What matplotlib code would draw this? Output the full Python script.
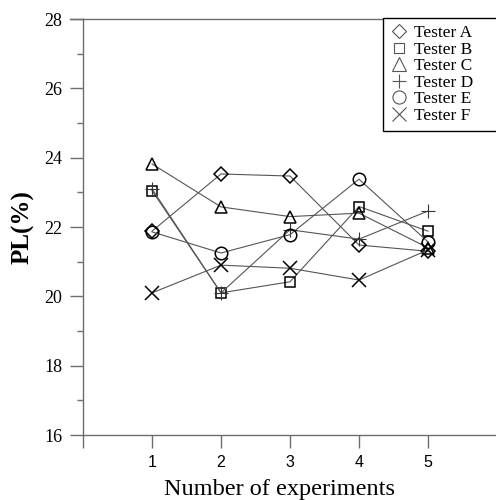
import numpy as np
import matplotlib.pyplot as plt
from matplotlib.lines import Line2D
from matplotlib.ticker import MultipleLocator

# PL values for each tester over five experiments
runs = [1, 2, 3, 4, 5]
tester_a = [21.88, 23.53, 23.47, 21.48, 21.30]
tester_b = [23.05, 20.10, 20.42, 22.59, 21.88]
tester_c = [23.82, 22.58, 22.30, 22.40, 21.40]
tester_d = [23.10, 20.10, 21.92, 21.65, 22.46]
tester_e = [21.86, 21.25, 21.78, 23.38, 21.57]
tester_f = [20.10, 20.90, 20.81, 20.47, 21.34]
labels = ['Tester A', 'Tester B', 'Tester C', 'Tester D', 'Tester E', 'Tester F']

series = [tester_a, tester_b, tester_c, tester_d, tester_e, tester_f]
markers = ['D', 's', '^', '+', 'o', 'x']
msizes = [7, 7.5, 9, 10, 9, 10]
mwidths = [1.1, 1.1, 1.1, 0.8, 1.1, 1.1]
mcolors = ['black', 'black', 'black', '#333333', 'black', 'black']

serif = 'Liberation Serif'
sans = 'Liberation Sans'
axis_grey = '#6e6e6e'

fig = plt.figure(figsize=(4.96, 5.0), dpi=100)
ax = fig.add_axes([83 / 496, 65 / 500, 414 / 496, 416 / 500])

for vals, m, ms, mw, mc in zip(series, markers, msizes, mwidths, mcolors):
    ax.plot(runs, vals, color='#555555', lw=0.8, marker=m, ms=ms,
            mew=mw, mec=mc, mfc='none', zorder=3)

ax.set_xlim(0, 6)
ax.set_ylim(16, 28)

ax.set_xticks([0, 1, 2, 3, 4, 5])
ax.set_xticklabels(['', '1', '2', '3', '4', '5'], fontfamily=sans, fontsize=11.5)
ax.yaxis.set_major_locator(MultipleLocator(2))
ax.yaxis.set_minor_locator(MultipleLocator(1))
for t in ax.get_yticklabels():
    t.set_fontfamily(serif)
    t.set_fontsize(13)

ax.tick_params(axis='x', direction='out', length=9.5, width=1, color=axis_grey, pad=5)
ax.tick_params(axis='y', which='major', direction='out', length=9.5, width=1,
               color=axis_grey, pad=5.5)
ax.tick_params(axis='y', which='minor', direction='out', length=4.5, width=1,
               color=axis_grey)

ax.spines['right'].set_visible(False)
for side in ['left', 'top', 'bottom']:
    ax.spines[side].set_color(axis_grey)
    ax.spines[side].set_linewidth(1)

# extend the top line out to the 28 tick
ax.plot([-0.19, 0], [28, 28], color=axis_grey, lw=1, clip_on=False)

fig.text(23 / 496, 1 - 227 / 500, 'PL(%)', rotation=90, ha='center', va='center',
         fontfamily=serif, fontweight='bold', fontsize=18)
fig.text(280 / 496, 5.5 / 500, 'Number of experiments', ha='center', va='baseline',
         fontfamily=serif, fontsize=17.5)

handles = [Line2D([], [], ls='none', marker=m, ms=ms * 1.05, mew=0.8, mec='#555555',
                  mfc='none') for m, ms in zip(markers, msizes)]
leg_top = 1 - 18 / 500
leg = fig.legend(handles, labels, loc='upper left',
                 bbox_to_anchor=(383 / 496, leg_top - 0.2, 120 / 496, 0.2),
                 bbox_transform=fig.transFigure, mode='expand',
                 borderaxespad=0, frameon=True, fancybox=False, framealpha=1,
                 edgecolor='black', prop={'family': serif, 'size': 12.5},
                 labelspacing=0.02, handlelength=1.0, handletextpad=0.4,
                 borderpad=0.4)
leg.get_frame().set_linewidth(1)

fig.savefig('out.png', dpi=100)
